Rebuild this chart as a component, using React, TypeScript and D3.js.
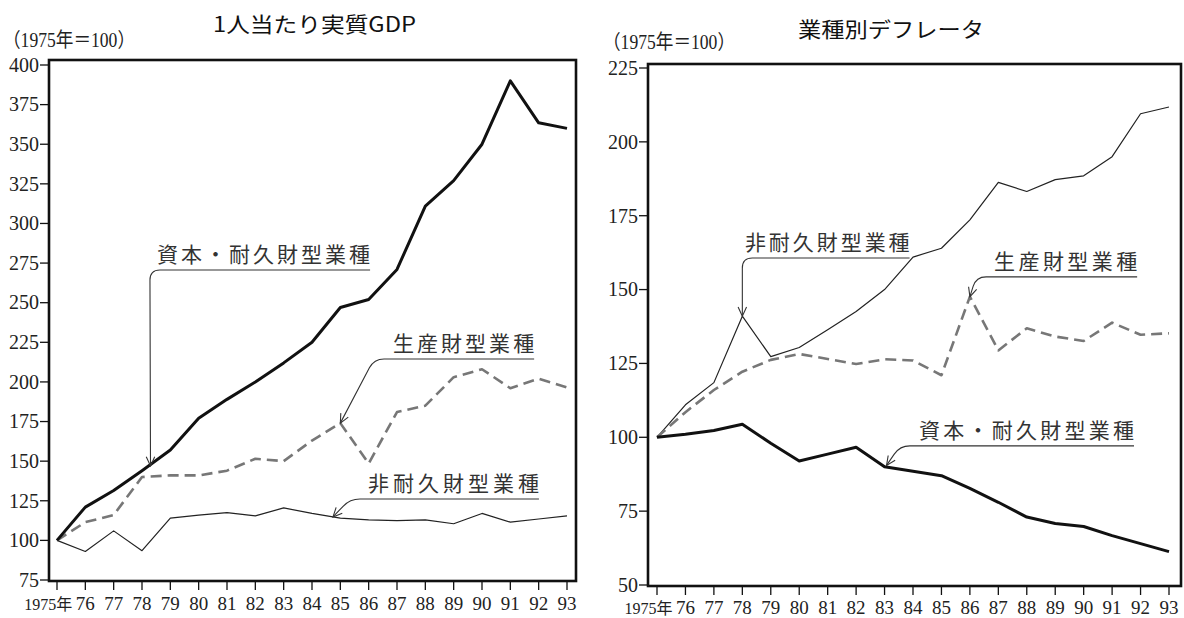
import React from 'react';
import * as d3 from 'd3';

// ---------- data ----------
const years = ['1975年', '76', '77', '78', '79', '80', '81', '82', '83', '84', '85', '86', '87', '88', '89', '90', '91', '92', '93'];

// 1人当たり実質GDP (1975=100)
const gdpCapital = [100, 121, 131.5, 144, 157, 177, 189, 200, 212, 225, 247, 252, 271, 311, 327, 350, 390, 363.5, 360];
const gdpProducer = [100, 111.5, 116, 140, 141, 141, 144, 151.5, 150, 163, 174, 148.5, 181, 185, 203, 208, 196, 202, 196.5];
const gdpNondurable = [100, 93, 106, 93.5, 114, 116, 117.5, 115.5, 120.5, 117, 114, 113, 112.5, 113, 110.5, 117, 111.5, 113.5, 115.5];

// 業種別デフレータ (1975=100)
const defCapital = [100, 101, 102.3, 104.4, 98, 92, 94.3, 96.6, 90, 88.5, 87, 82.7, 78, 73, 70.8, 69.8, 66.7, 64, 61.3];
const defProducer = [100, 108.5, 116, 122.2, 126.2, 128.2, 126.5, 124.8, 126.4, 126, 121, 147.6, 129.4, 136.9, 134.1, 132.6, 138.8, 134.7, 135.2];
const defNondurable = [100, 111, 118.5, 141, 127.3, 130.4, 136.4, 142.6, 150, 161, 164, 173.6, 186.3, 183.2, 187.2, 188.5, 195, 209.5, 211.8];

const gdpTicks = [75, 100, 125, 150, 175, 200, 225, 250, 275, 300, 325, 350, 375, 400];
const defTicks = [50, 75, 100, 125, 150, 175, 200, 225];

const labelCapital = '資本・耐久財型業種';
const labelProducer = '生産財型業種';
const labelNondurable = '非耐久財型業種';

const gdpTitle = '1人当たり実質GDP';
const defTitle = '業種別デフレータ';
const baseNote = '（1975年＝100）';

// annotation anchors in data units: [year index, value]
const gdpAnnotations = [
  { text: labelCapital, tip: [3.3, 147], corner: [3.28, 270.6], end: 11.05, textStart: 3.53 },
  { text: labelProducer, tip: [10, 174], corner: [11.19, 214.5], end: 16.84, textStart: 11.86 },
  { text: labelNondurable, tip: [9.74, 114.8], corner: [10.34, 126.1], end: 17.01, textStart: 10.98 },
];
const defAnnotations = [
  { text: labelNondurable, tip: [3, 141], corner: [3, 160.7], end: 8.88, textStart: 3.09 },
  { text: labelProducer, tip: [11, 147.6], corner: [11.22, 154.3], end: 16.88, textStart: 11.85 },
  { text: labelCapital, tip: [8.07, 90.5], corner: [8.54, 97.1], end: 16.77, textStart: 9.21 },
];

// ---------- styles ----------
const SERIF = '"Liberation Serif", "Times New Roman", "Noto Sans CJK JP", serif';
const SANS = '"Noto Sans CJK JP", "Noto Sans", sans-serif';

const styles = {
  capital: { stroke: '#111', width: 3, dash: undefined as string | undefined },
  producer: { stroke: '#777', width: 2.6, dash: '11 6' },
  nondurable: { stroke: '#222', width: 1.2, dash: undefined as string | undefined },
};

type Cfg = {
  frame: { x0: number; x1: number; y0: number; y1: number };
  xRange: [number, number];
  yDomain: [number, number];
  yRange: [number, number];
  title: { x: number; y: number; w: number };
  note: { x: number; y: number };
  xLabelDy: number;
};

const gdpCfg: Cfg = {
  frame: { x0: 49, x1: 576, y0: 60, y1: 581 },
  xRange: [57, 567],
  yDomain: [75, 400],
  yRange: [580, 65],
  title: { x: 213, y: 32, w: 203 },
  note: { x: 3, y: 47 },
  xLabelDy: 29,
};
const defCfg: Cfg = {
  frame: { x0: 648, x1: 1181, y0: 64, y1: 586 },
  xRange: [657, 1169],
  yDomain: [50, 225],
  yRange: [585, 68],
  title: { x: 798, y: 37, w: 186 },
  note: { x: 603, y: 49 },
  xLabelDy: 28,
};

function Panel({ cfg, title, capital, producer, nondurable, ticks, annotations }: any) {
  const x = d3.scaleLinear().domain([0, years.length - 1]).range(cfg.xRange);
  const y = d3.scaleLinear().domain(cfg.yDomain).range(cfg.yRange);
  const line = d3.line<number>().x((_, i) => x(i)).y((d) => y(d));
  const f = cfg.frame;

  const seriesList = [
    { data: nondurable, st: styles.nondurable },
    { data: producer, st: styles.producer },
    { data: capital, st: styles.capital },
  ];

  return (
    <g>
      <text x={cfg.title.x} y={cfg.title.y} fontFamily={SANS} fontSize={21} fill="#111"
        textLength={cfg.title.w} lengthAdjust="spacingAndGlyphs">{title}</text>
      <text x={cfg.note.x} y={cfg.note.y} fontFamily={SERIF} fontSize={20} fill="#222"
        textLength={132} lengthAdjust="spacingAndGlyphs">{baseNote}</text>

      {/* y ticks */}
      {ticks.map((t: number) => (
        <g key={'y' + t}>
          <line x1={f.x0 - 9} x2={f.x0} y1={y(t)} y2={y(t)} stroke="#111" strokeWidth={1.3} />
          <text x={f.x0 - 10} y={y(t)} dy="0.34em" textAnchor="end" fontFamily={SERIF} fontSize={20} fill="#222">{t}</text>
        </g>
      ))}

      {/* x ticks */}
      {years.map((lab, i) => (
        <g key={'x' + i}>
          <line x1={x(i)} x2={x(i)} y1={f.y1} y2={f.y1 + 9} stroke="#111" strokeWidth={1.3} />
          {i === 0 ? (
            <text x={x(1) - 13} y={f.y1 + cfg.xLabelDy} textAnchor="end" fontFamily={SERIF} fontSize={16} fill="#222">{lab}</text>
          ) : (
            <text x={x(i)} y={f.y1 + cfg.xLabelDy} textAnchor="middle" fontFamily={SERIF} fontSize={19} fill="#222">{lab}</text>
          )}
        </g>
      ))}

      {/* series */}
      {seriesList.map((s, k) => (
        <path key={k} d={line(s.data) || ''} fill="none" stroke={s.st.stroke} strokeWidth={s.st.width}
          strokeDasharray={s.st.dash} strokeLinejoin="round" strokeLinecap="butt" />
      ))}

      {/* annotations */}
      {annotations.map((a: any, k: number) => {
        const P = [x(a.tip[0]), y(a.tip[1])];
        const C = [x(a.corner[0]), y(a.corner[1])];
        const r = 10;
        const dx = P[0] - C[0], dy = P[1] - C[1];
        const len = Math.hypot(dx, dy) || 1;
        const A = [C[0] + (r * dx) / len, C[1] + (r * dy) / len];
        const B = [C[0] + r, C[1]];
        const E = [x(a.end), C[1]];
        const d = `M${P[0]},${P[1]} L${A[0]},${A[1]} Q${C[0]},${C[1]} ${B[0]},${B[1]} L${E[0]},${E[1]}`;
        const hlen = Math.hypot(P[0] - A[0], P[1] - A[1]) || 1;
        const ux = (P[0] - A[0]) / hlen;
        const uy = (P[1] - A[1]) / hlen;
        const ang = (25 * Math.PI) / 180;
        const hl = 10;
        const rot = (vx: number, vy: number, t: number) => [vx * Math.cos(t) - vy * Math.sin(t), vx * Math.sin(t) + vy * Math.cos(t)];
        const b1 = rot(-ux, -uy, ang);
        const b2 = rot(-ux, -uy, -ang);
        const head = `M${P[0] + hl * b1[0]},${P[1] + hl * b1[1]} L${P[0]},${P[1]} L${P[0] + hl * b2[0]},${P[1] + hl * b2[1]}`;
        const tx = x(a.textStart);
        return (
          <g key={'a' + k}>
            <path d={d} fill="none" stroke="#333" strokeWidth={1.1} />
            <path d={head} fill="none" stroke="#333" strokeWidth={1.1} />
            <text x={tx} y={C[1] - 8} fontFamily={SANS} fontSize={21} fill="#333"
              textLength={E[0] - tx} lengthAdjust="spacing">{a.text}</text>
          </g>
        );
      })}

      {/* frame */}
      <rect x={f.x0} y={f.y0} width={f.x1 - f.x0} height={f.y1 - f.y0} fill="none" stroke="#111" strokeWidth={2.6} />
    </g>
  );
}

export default function App() {
  return (
    <svg width={1184} height={618} style={{ position: 'absolute', left: 0, top: 0, background: '#fff' }}>
      <rect x={0} y={0} width={1184} height={618} fill="#fff" />
      <Panel cfg={gdpCfg} title={gdpTitle} capital={gdpCapital} producer={gdpProducer}
        nondurable={gdpNondurable} ticks={gdpTicks} annotations={gdpAnnotations} />
      <Panel cfg={defCfg} title={defTitle} capital={defCapital} producer={defProducer}
        nondurable={defNondurable} ticks={defTicks} annotations={defAnnotations} />
    </svg>
  );
}
